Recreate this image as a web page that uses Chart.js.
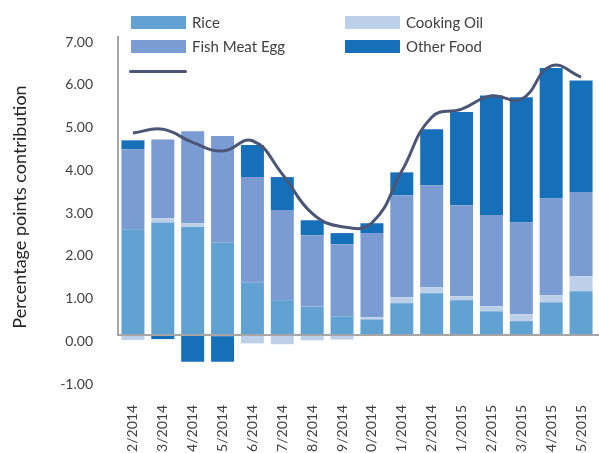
<!DOCTYPE html>
<html>
<head>
<meta charset="utf-8">
<script src="https://cdn.jsdelivr.net/npm/chart.js@4.4.1/dist/chart.umd.min.js"></script>
<style>
  body { margin: 0; background: #fff; }
  #wrap { position: relative; width: 599px; height: 453px; overflow: hidden; font-family: Lato, sans-serif; }
  #chart { position: absolute; left: 0; top: 0; }
  .lg { position: absolute; }
  .lg-text { position: absolute; font-size: 15px; color: #404040; line-height: 15px; }
</style>
</head>
<body>
<div id="wrap">
  <canvas id="chart" width="599" height="453"></canvas>
  <div id="legend"></div>
</div>
<script>
var categories = ['2/2014', '3/2014', '4/2014', '5/2014', '6/2014', '7/2014', '8/2014', '9/2014',
                  '10/2014', '11/2014', '12/2014', '1/2015', '2/2015', '3/2015', '4/2015', '5/2015'];
var rice = [2.48, 2.64, 2.53, 2.17, 1.23, 0.82, 0.67, 0.44, 0.37, 0.75, 0.98, 0.82, 0.56, 0.33, 0.77, 1.03];
var cookingOil = [-0.11, 0.10, 0.09, -0.02, -0.19, -0.21, -0.12, -0.10, 0.05, 0.14, 0.14, 0.09, 0.12, 0.16, 0.17, 0.35];
var fishMeatEgg = [1.87, 1.84, 2.15, 2.49, 2.47, 2.11, 1.67, 1.69, 1.97, 2.38, 2.39, 2.13, 2.13, 2.15, 2.26, 1.97];
var otherFood = [0.21, -0.09, -0.62, -0.60, 0.75, 0.77, 0.35, 0.26, 0.23, 0.54, 1.31, 2.18, 2.80, 2.93, 3.05, 2.61];
var total = [4.73, 4.82, 4.51, 4.31, 4.55, 3.77, 2.85, 2.54, 2.63, 3.84, 5.10, 5.29, 5.60, 5.52, 6.30, 6.04];
var yTicks = [-1, 0, 1, 2, 3, 4, 5, 6, 7];

var colors = {
    rice: '#62a2d3',
    oil: '#bcd1e9',
    fme: '#7b9cd2',
    other: '#1670b9',
    line: '#4b5677'
};

// legend drawn as html, two columns like the original
var legendItems = [
    { label: 'Rice', color: colors.rice, left: 131, top: 16 },
    { label: 'Fish Meat Egg', color: colors.fme, left: 131, top: 40 },
    { label: '', color: colors.line, left: 129, top: 70, line: true },
    { label: 'Cooking Oil', color: colors.oil, left: 345, top: 16 },
    { label: 'Other Food', color: colors.other, left: 345, top: 40 }
];
var legendEl = document.getElementById('legend');
legendItems.forEach(function (it) {
    var sw = document.createElement('div');
    sw.className = 'lg';
    sw.style.left = it.left + 'px';
    sw.style.top = it.top + 'px';
    sw.style.background = it.color;
    if (it.line) {
        sw.style.width = '58px';
        sw.style.height = '3px';
        sw.style.borderRadius = '2px';
    } else {
        sw.style.width = '55px';
        sw.style.height = '13px';
    }
    legendEl.appendChild(sw);
    if (it.label) {
        var t = document.createElement('div');
        t.className = 'lg-text';
        t.style.left = (it.left + 61) + 'px';
        t.style.top = (it.top - 1) + 'px';
        t.textContent = it.label;
        legendEl.appendChild(t);
    }
});

var axisLines = {
    id: 'axisLines',
    afterDatasetsDraw: function (chart) {
        var ctx = chart.ctx;
        var area = chart.chartArea;
        var zero = Math.round(chart.scales.y.getPixelForValue(0));
        ctx.save();
        ctx.strokeStyle = '#a6a6a6';
        ctx.lineWidth = 2;
        ctx.beginPath();
        ctx.moveTo(area.left, area.top);
        ctx.lineTo(area.left, zero);
        ctx.lineTo(chart.width, zero);
        ctx.stroke();
        ctx.restore();
    }
};

function barSet(label, data, color) {
    return {
        type: 'bar',
        label: label,
        data: data,
        backgroundColor: color,
        borderWidth: 0,
        barPercentage: 0.77,
        categoryPercentage: 1,
        order: 1
    };
}

var ctx = document.getElementById('chart').getContext('2d');
var myChart = new Chart(ctx, {
    type: 'bar',
    data: {
        labels: categories,
        datasets: [
            barSet('Rice', rice, colors.rice),
            barSet('Cooking Oil', cookingOil, colors.oil),
            barSet('Fish Meat Egg', fishMeatEgg, colors.fme),
            barSet('Other Food', otherFood, colors.other),
            {
                type: 'line',
                label: 'Total',
                data: total,
                borderColor: colors.line,
                borderWidth: 3,
                pointRadius: 0,
                tension: 0.45,
                fill: false,
                order: 0
            }
        ]
    },
    options: {
        responsive: false,
        animation: false,
        devicePixelRatio: 1,
        layout: { padding: { top: 36, right: 3, bottom: 0, left: 0 } },
        plugins: {
            legend: { display: false },
            tooltip: { enabled: false }
        },
        scales: {
            x: {
                stacked: true,
                offset: true,
                grid: { display: false, drawTicks: false },
                border: { display: false },
                ticks: {
                    autoSkip: false,
                    minRotation: 90,
                    maxRotation: 90,
                    padding: 27,
                    color: '#404040',
                    font: { family: 'Lato', size: 14 }
                },
                afterFit: function (scale) {
                    scale.height = 75;
                    scale.paddingLeft = 0;
                    scale.paddingRight = 0;
                }
            },
            y: {
                stacked: true,
                min: yTicks[0],
                max: yTicks[yTicks.length - 1],
                grid: { display: false, drawTicks: false },
                border: { display: false },
                afterBuildTicks: function (scale) {
                    scale.ticks = yTicks.map(function (v) { return { value: v }; });
                },
                ticks: {
                    padding: 25,
                    labelOffset: 6,
                    color: '#404040',
                    font: { family: 'Lato', size: 14 },
                    callback: function (v) { return Number(v).toFixed(2); }
                },
                title: {
                    display: true,
                    text: 'Percentage points contribution',
                    color: '#262626',
                    font: { family: 'Lato', size: 18 },
                    padding: { top: 9, bottom: 0 }
                },
                afterFit: function (scale) { scale.width = 118; }
            }
        }
    },
    plugins: [axisLines]
});
</script>
</body>
</html>
